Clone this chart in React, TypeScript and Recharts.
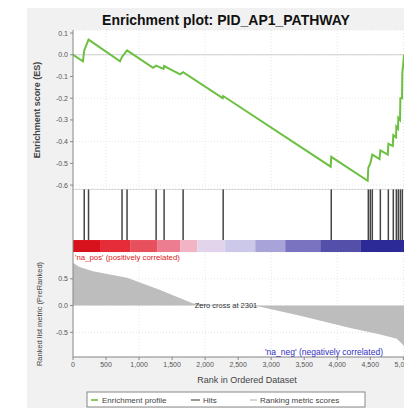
import React from "react";
import {
  ComposedChart,
  LineChart,
  Line,
  Area,
  XAxis,
  YAxis,
  CartesianGrid,
  ReferenceLine,
  ReferenceArea,
} from "recharts";

// ---- data ----
const esRanks = [0, 150, 170, 235, 712, 742, 818, 1212, 1258, 1370, 1379, 1621, 1667, 2265, 2273, 3900, 3909, 4460, 4470, 4500, 4530, 4640, 4652, 4765, 4773, 4840, 4848, 4890, 4894, 4920, 4924, 4950, 4955, 4980, 4985, 5000, 5010];
const esValues = [0.0, -0.03, 0.02, 0.07, -0.03, -0.01, 0.02, -0.06, -0.05, -0.065, -0.052, -0.09, -0.08, -0.2, -0.19, -0.515, -0.47, -0.58, -0.52, -0.5, -0.46, -0.48, -0.44, -0.46, -0.41, -0.42, -0.37, -0.38, -0.33, -0.34, -0.29, -0.3, -0.2, -0.2, -0.08, -0.04, 0.0];

const hitRanks = [170, 235, 742, 818, 1258, 1379, 1667, 2273, 3909, 4470, 4500, 4530, 4652, 4773, 4848, 4894, 4924, 4955, 4985];

const metricRanks = [0, 100, 300, 818, 1300, 1818, 2000, 2300, 2600, 2833, 3439, 4197, 4652, 4900, 5010];
const metricValues = [0.8, 0.72, 0.64, 0.52, 0.3, 0.04, 0.02, 0.0, -0.01, -0.02, -0.19, -0.42, -0.54, -0.62, -0.75];

const barStarts = [0, 409, 864, 1273, 1621, 1879, 2303, 2758, 3212, 3742, 4348];
const barEnds = [409, 864, 1273, 1621, 1879, 2303, 2758, 3212, 3742, 4348, 5010];
const barColors = ["#d8121c", "#e52c38", "#e8505e", "#ec7c90", "#f2b4c4", "#e2d4ea", "#ccc8ea", "#a8a4da", "#7a74c0", "#5450aa", "#2c2a96"];

const esTicks = [0.1, 0.0, -0.1, -0.2, -0.3, -0.4, -0.5, -0.6];
const metricTicks = [0.5, 0.0, -0.5];
const rankTicks = [0, 500, 1000, 1500, 2000, 2500, 3000, 3500, 4000, 4500, 5000];

const titleText = "Enrichment plot: PID_AP1_PATHWAY";
const zeroCrossText = "Zero cross at 2301";
const posText = "'na_pos' (positively correlated)";
const negText = "'na_neg' (negatively correlated)";

const esData = esRanks.map((r, i) => ({ rank: r, es: esValues[i] }));
const hitData = hitRanks.map((r) => ({ rank: r, hit: 1 }));
const metricData = metricRanks.map((r, i) => ({ rank: r, metric: metricValues[i] }));

const FONT = "'Liberation Sans', Arial, sans-serif";
const X_DOMAIN: [number, number] = [0, 5010];
const CW = 420;
const RM = CW - 404;
const tickStyle = { fontSize: 7, fill: "#555", fontFamily: FONT };
const ES_GREEN = "#6cc040";

const fmtRank = (v: number) => v.toLocaleString("en-US");

export default function App() {
  return (
    <div style={{ position: "fixed", left: 0, top: 0, width: 404, height: 408, overflow: "hidden", background: "#fff" }}>
      <div style={{ position: "absolute", left: 27, top: 8, width: 377, height: 400, background: "#f1f1f1" }} />
      <div style={{ position: "absolute", left: 73, top: 30, width: 331, height: 327, background: "#fff" }} />

      {/* ES panel */}
      <div style={{ position: "absolute", left: 0, top: 0 }}>
        <LineChart width={CW} height={200} data={esData} margin={{ top: 30, right: RM, bottom: 11, left: 0 }}>
          <CartesianGrid stroke="#e6e6e6" strokeDasharray="1 2" />
          <XAxis type="number" dataKey="rank" domain={X_DOMAIN} ticks={rankTicks} hide allowDataOverflow />
          <YAxis
            type="number"
            width={73}
            domain={[-0.618, 0.114]}
            ticks={esTicks}
            allowDataOverflow
            tickFormatter={(v: number) => v.toFixed(1)}
            tick={tickStyle}
            tickSize={3}
            stroke="#888"
          />
          <ReferenceLine y={0} stroke="#cfcfcf" />
          <Line type="linear" dataKey="es" stroke={ES_GREEN} strokeWidth={2} dot={false} isAnimationActive={false} />
        </LineChart>
      </div>

      {/* hits + colour bar */}
      <div style={{ position: "absolute", left: 0, top: 189 }}>
        <ComposedChart width={CW} height={63} data={hitData} margin={{ top: 0, right: RM, bottom: 0, left: 73 }}>
          <XAxis type="number" dataKey="rank" domain={X_DOMAIN} hide allowDataOverflow />
          <YAxis type="number" domain={[0, 1]} hide allowDataOverflow />
          <Line type="linear" dataKey="hit" stroke="none" dot={false} isAnimationActive={false} />
          {barStarts.map((s, i) => (
            <ReferenceArea key={"b" + i} x1={s} x2={barEnds[i]} y1={0} y2={0.19} fill={barColors[i]} fillOpacity={1} stroke="none" ifOverflow="visible" />
          ))}
          {hitRanks.map((r, i) => (
            <ReferenceLine key={"h" + i} segment={[{ x: r, y: 0.19 }, { x: r, y: 1 }]} stroke="#444" strokeWidth={1.5} ifOverflow="visible" />
          ))}
          <ReferenceLine y={1} stroke="#bbb" ifOverflow="visible" />
          <ReferenceLine x={0} stroke="#888" ifOverflow="visible" />
        </ComposedChart>
      </div>

      {/* ranked list metric */}
      <div style={{ position: "absolute", left: 0, top: 252 }}>
        <ComposedChart width={CW} height={140} data={metricData} margin={{ top: 0, right: RM, bottom: 0, left: 0 }}>
          <CartesianGrid stroke="#e6e6e6" strokeDasharray="1 2" />
          <XAxis
            type="number"
            dataKey="rank"
            domain={X_DOMAIN}
            ticks={rankTicks}
            tickFormatter={fmtRank}
            tick={tickStyle}
            tickSize={3}
            height={35}
            stroke="#888"
            allowDataOverflow
          />
          <YAxis
            type="number"
            width={73}
            domain={[-0.96, 1.0]}
            ticks={metricTicks}
            tickFormatter={(v: number) => v.toFixed(1)}
            tick={tickStyle}
            tickSize={3}
            stroke="#888"
            allowDataOverflow
          />
          <Area type="linear" dataKey="metric" baseValue={0} stroke="none" fill="#bdbdbd" fillOpacity={1} isAnimationActive={false} />
        </ComposedChart>
      </div>

      {/* text overlay */}
      <svg style={{ position: "absolute", left: 0, top: 0 }} width={404} height={408}>
        <text x={226} y={25} textAnchor="middle" fontFamily={FONT} fontWeight="bold" fontSize={14} fill="#111">{titleText}</text>
        <text transform="translate(40,110) rotate(-90)" textAnchor="middle" fontFamily={FONT} fontWeight="bold" fontSize={9} fill="#444">Enrichment score (ES)</text>
        <text transform="translate(42,314) rotate(-90)" textAnchor="middle" fontFamily={FONT} fontSize={7.5} fill="#444">Ranked list metric (PreRanked)</text>
        <text x={75} y={260} fontFamily={FONT} fontSize={7.8} fill="#e02020">{posText}</text>
        <text x={383} y={355} textAnchor="end" fontFamily={FONT} fontSize={8.5} fill="#3030c0">{negText}</text>
        <text x={226} y={308} textAnchor="middle" fontFamily={FONT} fontSize={7.5} fill="#333">{zeroCrossText}</text>
        <text x={247} y={383} textAnchor="middle" fontFamily={FONT} fontSize={9} fill="#444">Rank in Ordered Dataset</text>
        <rect x={87} y={392} width={278} height={15} fill="#fff" stroke="#888" strokeWidth={1} />
        <line x1={91} y1={400} x2={98} y2={400} stroke={ES_GREEN} strokeWidth={1.6} />
        <text x={102} y={403} fontFamily={FONT} fontSize={8} fill="#444">Enrichment profile</text>
        <line x1={191} y1={400} x2={200} y2={400} stroke="#333" strokeWidth={1} />
        <text x={203} y={403} fontFamily={FONT} fontSize={8} fill="#444">Hits</text>
        <line x1={250} y1={400} x2={257} y2={400} stroke="#aaa" strokeWidth={1} />
        <text x={260} y={403} fontFamily={FONT} fontSize={8} fill="#444">Ranking metric scores</text>
      </svg>
    </div>
  );
}
